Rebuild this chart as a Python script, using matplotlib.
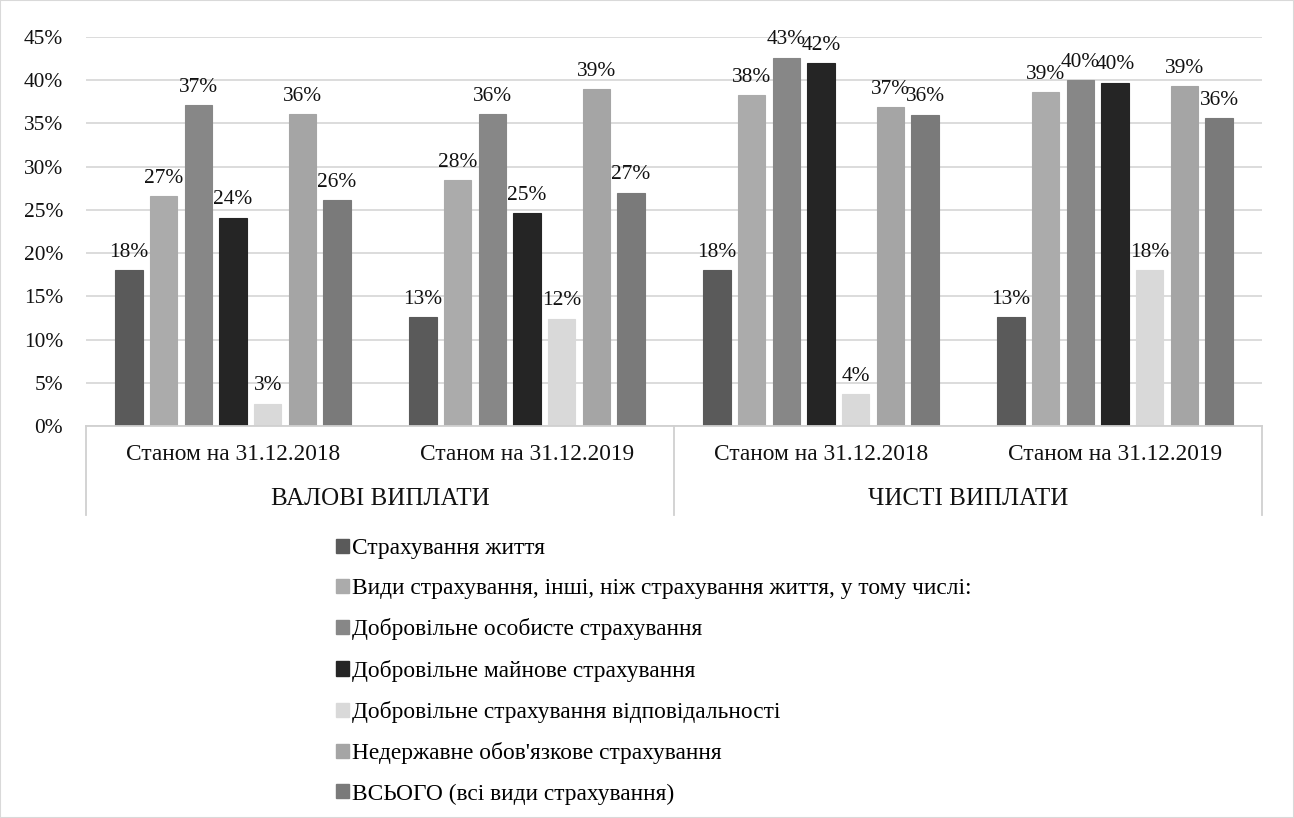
import matplotlib
matplotlib.use("Agg")
import matplotlib.pyplot as plt
from matplotlib.patches import Patch
import numpy as np

plt.rcParams['font.family'] = ['Liberation Serif', 'DejaVu Serif']

subcats = ["Станом на 31.12.2018", "Станом на 31.12.2019",
           "Станом на 31.12.2018", "Станом на 31.12.2019"]
supercats = ["ВАЛОВІ ВИПЛАТИ", "ЧИСТІ ВИПЛАТИ"]
series = ["Страхування життя",
          "Види страхування, інші, ніж страхування життя, у тому числі:",
          "Добровільне особисте страхування",
          "Добровільне майнове страхування",
          "Добровільне страхування відповідальності",
          "Недержавне обов'язкове страхування",
          "ВСЬОГО (всі види страхування)"]
# values per series, across the 4 categories (fractions)
life        = [0.180, 0.126, 0.180, 0.126]
nonlife     = [0.266, 0.284, 0.383, 0.386]
personal    = [0.371, 0.361, 0.426, 0.400]
property_   = [0.241, 0.246, 0.420, 0.397]
liability   = [0.026, 0.124, 0.037, 0.180]
compulsory  = [0.361, 0.390, 0.369, 0.393]
total       = [0.261, 0.270, 0.360, 0.356]
values = [life, nonlife, personal, property_, liability, compulsory, total]
colors = ["#5a5a5a", "#ababab", "#878787", "#252525", "#d9d9d9", "#a5a5a5", "#7a7a7a"]

W, H = 1294, 818
fig = plt.figure(figsize=(W/100, H/100), dpi=100)
ax = fig.add_axes([86/W, 1-426/H, (1262-86)/W, (426-37)/H])

fs_num = 15.4
fs_cat = 16.8
fs_grp = 18.0
fs_leg = 16.8
x = np.arange(len(subcats))
step = 0.118
bw = 0.093
for i, (vals, c) in enumerate(zip(values, colors)):
    pos = x + (i - 3) * step
    bars = ax.bar(pos, vals, width=bw, color=c, edgecolor=c, linewidth=0.8, zorder=3, label=series[i])
    for b, v in zip(bars, vals):
        ax.annotate(f"{round(v*100):.0f}%", (b.get_x() + b.get_width()/2, v),
                    xytext=(0, 6), textcoords="offset points", ha="center", va="bottom",
                    fontsize=fs_num, color="#111111", zorder=4)

ax.set_xlim(-0.5, 3.5)
ax.set_ylim(0, 0.45)
ticks = np.arange(0, 0.451, 0.05)
ax.set_yticks(ticks)
ax.set_yticklabels([f"{int(round(t*100))}%" for t in ticks], fontsize=fs_num, color="#111111")
ax.tick_params(axis='y', length=0, pad=16.5)
ax.tick_params(axis='x', length=0, labelbottom=False)
ax.grid(axis='y', color="#d9d9d9", linewidth=1.3, zorder=0)
for s in ["top", "right", "left"]:
    ax.spines[s].set_visible(False)
ax.spines["bottom"].set_color("#d0d0d0")
ax.spines["bottom"].set_linewidth(1.3)
ax.spines["bottom"].set_zorder(5)

tr = ax.get_xaxis_transform()
axh = 426 - 37
for xi, lab in zip(x, subcats):
    ax.text(xi, -29/axh, lab, transform=tr, ha="center", va="center", fontsize=fs_cat, color="#111111")
for k, lab in enumerate(supercats):
    ax.text(2*k + 0.5, -73/axh, lab, transform=tr, ha="center", va="center", fontsize=fs_grp, color="#111111")
for xv in [-0.5, 1.5, 3.5]:
    ax.plot([xv, xv], [0, -89/axh], transform=tr, color="#d0d0d0", linewidth=1.3, clip_on=False)

handles = [Patch(facecolor=c, edgecolor=c) for c in colors]
fig.legend(handles, series, loc="upper left", bbox_to_anchor=(336/W, 1-538/H), frameon=False,
           borderaxespad=0, borderpad=0, handlelength=0.55, handleheight=0.55,
           handletextpad=0.12, labelspacing=0.825, prop={'size': fs_leg})

fig.patches.append(plt.Rectangle((0, 0), 1, 1, transform=fig.transFigure, fill=False,
                                 edgecolor="#d9d9d9", linewidth=1.5))
fig.savefig("out.png", dpi=100)
